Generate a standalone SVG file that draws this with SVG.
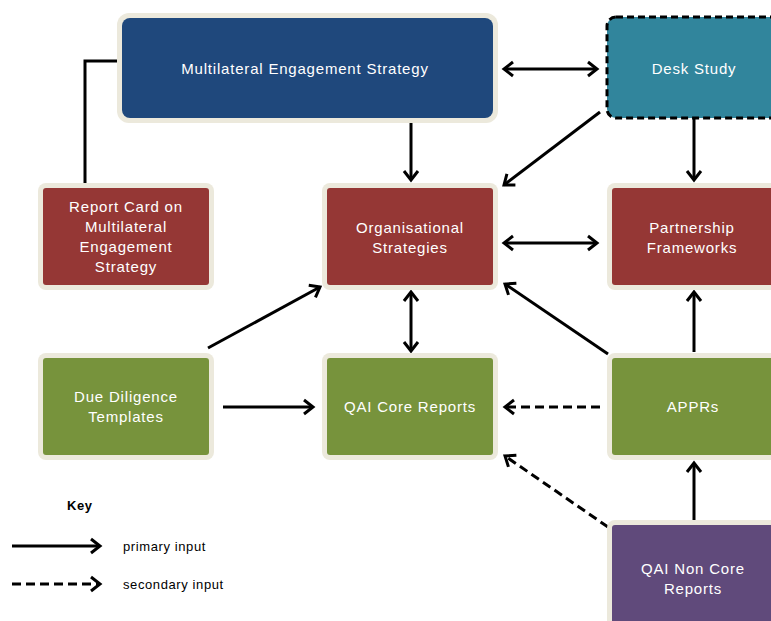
<svg xmlns="http://www.w3.org/2000/svg" width="771" height="621" viewBox="0 0 771 621">
  <defs>
    <marker id="arr" markerUnits="userSpaceOnUse" markerWidth="20" markerHeight="20" refX="0" refY="0" viewBox="-12 -10 14 20" orient="auto-start-reverse">
      <path d="M-9,-7 L0,0 L-9,7" fill="none" stroke="#000" stroke-width="3" stroke-linejoin="miter"/>
    </marker>
  </defs>
  <style>
    .frame { fill: #ECE9DC; }
    .blue { fill: #1F487C; }
    .teal { fill: #31859C; }
    .red { fill: #953735; }
    .green { fill: #77933C; }
    .purple { fill: #604A7B; }
    .lbl { font-family: "Liberation Sans", Arial, sans-serif; font-size: 15px; fill: #FFFFFF; text-anchor: middle; letter-spacing: 0.8px; }
    .key { font-family: "Liberation Sans", Arial, sans-serif; font-size: 13px; fill: #000; letter-spacing: 0.6px; }
    .c { fill: none; stroke: #000; stroke-width: 3; }
    .a { marker-end: url(#arr); }
    .b { marker-start: url(#arr); marker-end: url(#arr); }
    .d { stroke-dasharray: 9 5; }
  </style>
  <rect width="771" height="621" fill="#FFFFFF"/>

  <!-- connectors -->
  <g id="connectors">
    <polyline class="c" points="85,183 85,61 117,61"/>
    <line class="c b" x1="504" y1="69" x2="597" y2="69"/>
    <line class="c a" x1="411" y1="123" x2="411" y2="180"/>
    <line class="c a" x1="600" y1="112" x2="504" y2="185"/>
    <line class="c a" x1="694" y1="118" x2="694" y2="180"/>
    <line class="c b" x1="504" y1="243" x2="597" y2="243"/>
    <line class="c b" x1="411" y1="292" x2="411" y2="351"/>
    <line class="c a" x1="208" y1="348" x2="320" y2="287"/>
    <line class="c a" x1="223" y1="407" x2="313" y2="407"/>
    <line class="c a" x1="608" y1="354" x2="505" y2="284"/>
    <line class="c a" x1="694" y1="352" x2="694" y2="292"/>
    <line class="c a d" x1="600" y1="407" x2="505" y2="407"/>
    <line class="c a" x1="694" y1="520" x2="694" y2="463"/>
    <line class="c a d" x1="608" y1="527" x2="505" y2="456"/>
    <!-- key -->
    <line class="c a" x1="12" y1="546" x2="100" y2="546"/>
    <line class="c a d" x1="12" y1="584" x2="100" y2="584"/>
  </g>

  <g id="multilateral-engagement-strategy">
    <rect class="frame" x="117" y="13" width="381" height="110" rx="12"/>
    <rect class="blue" x="122" y="18" width="371" height="100" rx="8"/>
    <text class="lbl" x="305" y="74">Multilateral Engagement Strategy</text>
  </g>

  <g id="desk-study">
    <rect class="teal" x="607" y="17" width="180" height="101" rx="9" stroke="#000" stroke-width="3" stroke-dasharray="7 4"/>
    <text class="lbl" x="694" y="74">Desk Study</text>
  </g>

  <g id="report-card">
    <rect class="frame" x="38" y="183" width="176" height="107" rx="8"/>
    <rect class="red" x="43" y="188" width="166" height="97" rx="3"/>
    <text class="lbl" x="126" y="212">Report Card on</text>
    <text class="lbl" x="126" y="232">Multilateral</text>
    <text class="lbl" x="126" y="252">Engagement</text>
    <text class="lbl" x="126" y="272">Strategy</text>
  </g>

  <g id="organisational-strategies">
    <rect class="frame" x="322" y="183" width="176" height="107" rx="8"/>
    <rect class="red" x="327" y="188" width="166" height="97" rx="3"/>
    <text class="lbl" x="410" y="233">Organisational</text>
    <text class="lbl" x="410" y="253">Strategies</text>
  </g>

  <g id="partnership-frameworks">
    <rect class="frame" x="607" y="183" width="180" height="107" rx="8"/>
    <rect class="red" x="612" y="188" width="175" height="97" rx="3"/>
    <text class="lbl" x="692" y="233">Partnership</text>
    <text class="lbl" x="692" y="253">Frameworks</text>
  </g>

  <g id="due-diligence-templates">
    <rect class="frame" x="38" y="353" width="176" height="107" rx="8"/>
    <rect class="green" x="43" y="358" width="166" height="97" rx="3"/>
    <text class="lbl" x="126" y="402">Due Diligence</text>
    <text class="lbl" x="126" y="422">Templates</text>
  </g>

  <g id="qai-core-reports">
    <rect class="frame" x="322" y="353" width="176" height="107" rx="8"/>
    <rect class="green" x="327" y="358" width="166" height="97" rx="3"/>
    <text class="lbl" x="410" y="412">QAI Core Reports</text>
  </g>

  <g id="apprs">
    <rect class="frame" x="607" y="353" width="180" height="107" rx="8"/>
    <rect class="green" x="612" y="358" width="175" height="97" rx="3"/>
    <text class="lbl" x="693" y="412">APPRs</text>
  </g>

  <g id="qai-non-core-reports">
    <rect class="frame" x="607" y="520" width="180" height="120" rx="8"/>
    <rect class="purple" x="612" y="525" width="175" height="110" rx="3"/>
    <text class="lbl" x="693" y="574">QAI Non Core</text>
    <text class="lbl" x="693" y="594">Reports</text>
  </g>

  <g id="key">
    <text class="key" x="67" y="510" font-weight="bold">Key</text>
    <text class="key" x="123" y="551">primary input</text>
    <text class="key" x="123" y="589">secondary input</text>
  </g>
</svg>
